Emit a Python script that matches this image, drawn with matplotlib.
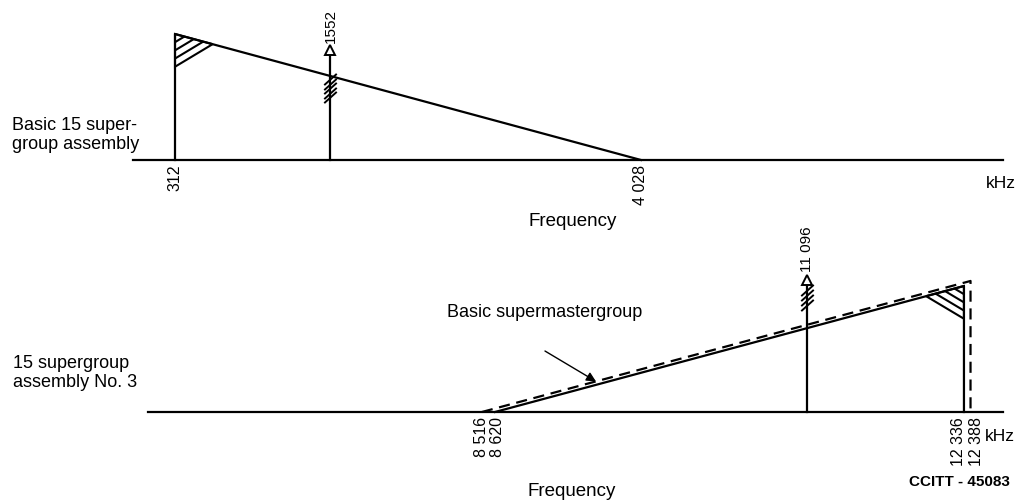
import matplotlib.pyplot as plt
import numpy as np
from matplotlib.patches import Polygon

plt.rcParams['font.family'] = ['Liberation Sans', 'DejaVu Sans']

# frequencies in kHz
top_band = [312, 4028]        # basic 15 supergroup assembly (level falls 1 -> 0)
top_pilot = 1552
bot_band = [8620, 12336]      # 15 supergroup assembly No. 3 (solid)
smg_band = [8516, 12388]      # basic supermastergroup (dashed)
bot_pilot = 11096
smg_level = 1.04

top_ticks = [312, 4028]
top_tick_labels = ['312', '4 028']
bot_ticks = [8516, 8620, 12336, 12388]
bot_tick_labels = ['8 516', '8 620', '12 336', '12 388']
pilot_labels = ['1552', '11 096']

W, H = 1017, 502
fig = plt.figure(figsize=(W / 100, H / 100), dpi=100)
lw = 1.6


def panel(px_ref, f_ref, scale, base_px, unit_px):
    ax = fig.add_axes([0, 0, 1, 1])
    ax.set_xlim(f_ref - px_ref / scale, f_ref + (W - px_ref) / scale)
    b = H - base_px
    ax.set_ylim(-b / unit_px, (H - b) / unit_px)
    ax.axis('off')
    ax.patch.set_alpha(0)
    ax.kx = 1 / scale      # kHz per pixel
    ax.ky = 1 / unit_px    # level per pixel
    return ax


hash_mark = [(-1, -0.9), (1, 0.9)]


def pilot(ax, f, top_lvl, marks, label):
    ax.plot([f, f], [0, top_lvl], color='k', lw=lw)
    ax.plot(f, top_lvl + 0.035, marker='^', ms=7, mfc='white', mec='k', mew=1.4)
    ax.plot([f] * len(marks), marks, ls='none', marker=hash_mark, ms=9,
            mec='k', mew=1.4)
    ax.text(f, top_lvl + 0.1, label, rotation=90, ha='center', va='bottom',
            fontsize=11)


def hatch(ax, corner, side, bottom, n=4):
    # shaded corner: strokes parallel to the lower edge, clipped to the triangle
    tri = Polygon([corner, side, bottom], closed=True, fill=False, lw=1.5,
                  edgecolor='k')
    ax.add_patch(tri)
    dx = side[0] - bottom[0]
    dy = side[1] - bottom[1]
    for k in range(1, n):
        y0 = bottom[1] + (corner[1] - bottom[1]) * k / n
        ln, = ax.plot([bottom[0], bottom[0] + 2 * dx], [y0, y0 + 2 * dy],
                      color='k', lw=1.5)
        ln.set_clip_path(tri)


hw, hd = 300, 0.26

# ---- top panel
top = panel(175, 312, 0.1254, 161, 126)
top.axhline(0, xmin=133 / W, xmax=1003 / W, color='k', lw=lw)
f0, f1 = top_band
top.plot([f0, f0, f1], [0, 1, 0], color='k', lw=lw)
hatch(top, (f0, 1), (f0 + hw, 1 - hw / (f1 - f0)), (f0, 1 - hd))
pilot(top, top_pilot, 0.84, np.linspace(0.5, 0.64, 5), pilot_labels[0])
for f, lab in zip(top_ticks, top_tick_labels):
    top.text(f, -0.03, lab, rotation=90, ha='center', va='top', fontsize=11.5)

# ---- bottom panel
bot = panel(495, 8620, 0.1262, 413, 126)
bot.axhline(0, xmin=148 / W, xmax=1003 / W, color='k', lw=lw)
b0, b1 = bot_band
s0, s1 = smg_band
bot.plot([b0, b1, b1], [0, 1, 0], color='k', lw=lw)
bot.plot([s0, s1, s1], [0, smg_level, 0], color='k', lw=lw, ls=(0, (5, 3)))
hatch(bot, (b1, 1), (b1 - hw, 1 - hw / (b1 - b0)), (b1, 1 - hd))
pilot(bot, bot_pilot, 1.016, np.linspace(0.85, 0.97, 4), pilot_labels[1])
label_dx = [0, 2, -5, 6]
for f, lab, dx in zip(bot_ticks, bot_tick_labels, label_dx):
    bot.annotate(lab, xy=(f, -0.03), xytext=(dx * 0.72, 0), textcoords='offset points',
                 rotation=90, ha='center', va='top', fontsize=11.5)

tip_f = 9420
tip_lvl = smg_level * (tip_f - s0) / (s1 - s0)
bot.text(9016, 0.80, 'Basic supermastergroup', ha='center', va='center', fontsize=13)
bot.annotate('', xy=(tip_f, tip_lvl), xytext=(9016, 0.484),
             arrowprops=dict(arrowstyle='-|>', color='k', lw=1, mutation_scale=14,
                             shrinkA=0, shrinkB=0))

# ---- free text
fig.text(12 / W, 1 - 135 / H, 'Basic 15 super-\ngroup assembly', ha='left', va='center',
         fontsize=13, linespacing=1.1)
fig.text(13 / W, 1 - 373 / H, '15 supergroup\nassembly No. 3', ha='left', va='center',
         fontsize=13, linespacing=1.1)
fig.text(986 / W, 1 - 184 / H, 'kHz', ha='left', va='center', fontsize=12.5)
fig.text(985 / W, 1 - 437 / H, 'kHz', ha='left', va='center', fontsize=12.5)
fig.text(573 / W, 1 - 222 / H, 'Frequency', ha='center', va='center', fontsize=13.5)
fig.text(572 / W, 1 - 492 / H, 'Frequency', ha='center', va='center', fontsize=13.5)
fig.text(1010 / W, 1 - 482 / H, 'CCITT - 45083', ha='right', va='center', fontsize=11,
         weight='bold')

fig.savefig('out.png', dpi=100)
